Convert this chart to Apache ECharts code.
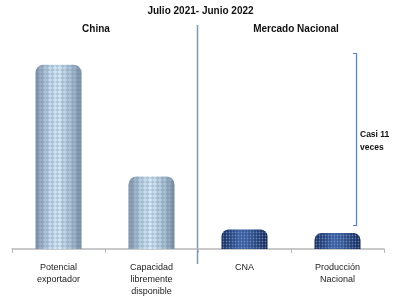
<!DOCTYPE html>
<html><head><meta charset="utf-8">
<script src="https://cdn.jsdelivr.net/npm/echarts@6/dist/echarts.min.js"></script>
<style>html,body{margin:0;padding:0;background:#fff}#c{width:401px;height:298px}</style>
</head><body><div id="c"></div>
<script>
const categories = ['Potencial\nexportador', 'Capacidad\nlibremente\ndisponible', 'CNA', 'Producción\nNacional'];
const values = [940, 370, 100, 82];
const groupOfBar = ['china', 'china', 'nacional', 'nacional'];
const title = 'Julio 2021- Junio 2022';
const groupTitles = ['China', 'Mercado Nacional'];
const note = 'Casi 11\nveces';

const lightFill = {type:'linear',x:0,y:0,x2:1,y2:0,colorStops:[
  {offset:0,color:'#8397ad'},{offset:0.3,color:'#c4d9ea'},{offset:0.5,color:'#d8eaf7'},
  {offset:0.8,color:'#a8bed2'},{offset:1,color:'#7a90a6'}]};
const darkFill = {type:'linear',x:0,y:0,x2:1,y2:0,colorStops:[
  {offset:0,color:'#132a56'},{offset:0.4,color:'#3b5d9e'},{offset:0.6,color:'#35568f'},
  {offset:1,color:'#112550'}]};

const data = values.map((v,i)=>({
  value:v,
  itemStyle: groupOfBar[i]==='china'
    ? {color:lightFill, borderRadius:[8,8,0,0],
       decal:{symbol:'diamond',symbolSize:1,dashArrayX:[5,0],dashArrayY:[4,0],color:'rgba(80,110,140,0.28)'}}
    : {color:darkFill, borderRadius:[7,7,0,0],
       decal:{symbol:'circle',symbolSize:0.6,dashArrayX:[3,0],dashArrayY:[3,0],color:'rgba(150,180,240,0.55)'}}
}));

const chart = echarts.init(document.getElementById('c'), null, {renderer:'canvas'});
const font = 'Liberation Sans, Arial, sans-serif';
chart.setOption({
  animation:false,
  grid:{left:12,right:17,top:53,bottom:45},
  xAxis:{type:'category',data:categories,
    axisLine:{lineStyle:{color:'#b8b8b8',width:1.5}},
    axisTick:{show:true,alignWithLabel:false,length:4,lineStyle:{color:'#b8b8b8'}},
    axisLabel:{color:'#222',fontSize:9,fontFamily:font,lineHeight:12,margin:13,interval:0}},
  yAxis:{type:'value',min:0,max:1000,show:false,splitLine:{show:false}},
  series:[{type:'bar',data:data,barWidth:46}],
  graphic:[
    {type:'text',left:'center',top:6,style:{text:title,font:'bold 10px '+font,fill:'#111'}},
    {type:'text',x:96,y:29,style:{text:groupTitles[0],font:'bold 10px '+font,fill:'#111',align:'center',verticalAlign:'middle'}},
    {type:'text',x:296,y:29,style:{text:groupTitles[1],font:'bold 10px '+font,fill:'#111',align:'center',verticalAlign:'middle'}},
    {type:'line',shape:{x1:197.5,y1:25,x2:197.5,y2:264},style:{stroke:'#6f9ad0',lineWidth:1.5}},
    {type:'polyline',shape:{points:[[353,53.5],[356.5,53.5],[356.5,225.5],[353,225.5]]},style:{stroke:'#5b7fd0',lineWidth:1.2,fill:null}},
    {type:'text',x:360,y:141,style:{text:note,font:'bold 8.5px '+font,fill:'#111',align:'left',verticalAlign:'middle',lineHeight:13}}
  ]
});
</script></body></html>
